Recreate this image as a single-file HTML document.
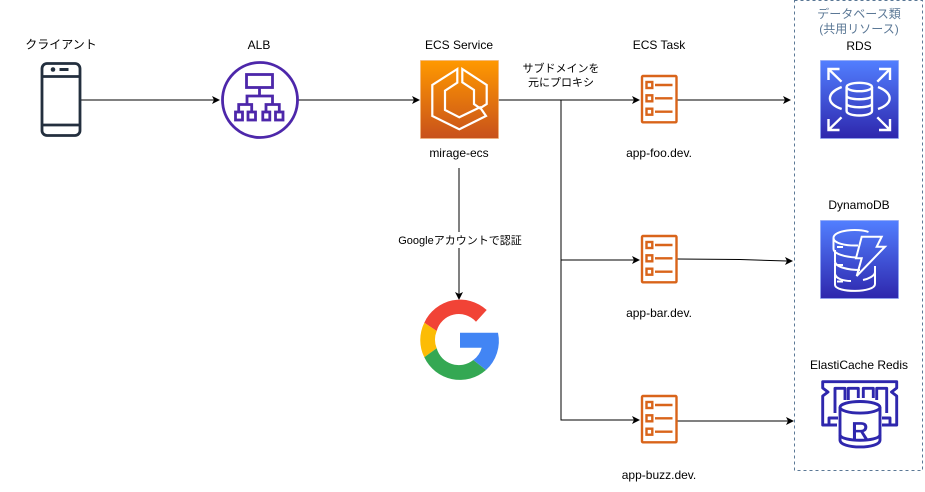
<!DOCTYPE html>
<html><head><meta charset="utf-8"><style>
html,body{margin:0;padding:0;background:#fff}
svg{display:block}
text{font-family:"Liberation Sans","Noto Sans CJK JP",sans-serif;font-size:12px;fill:#000;text-anchor:middle}
</style></head><body>
<svg width="925" height="492" viewBox="0 0 925 492" xmlns="http://www.w3.org/2000/svg">
<defs>
<linearGradient id="o" x1="0" y1="1" x2="0" y2="0"><stop offset="0" stop-color="#c8511b"/><stop offset="1" stop-color="#ff9900"/></linearGradient>
<linearGradient id="b" x1="0" y1="1" x2="0" y2="0"><stop offset="0" stop-color="#2e27ad"/><stop offset="1" stop-color="#527fff"/></linearGradient>
<g id="task" fill="none" stroke="#d9641a" stroke-width="2.400">
<rect x="642" y="76" width="34.500" height="46.300" rx="1"/>
<rect x="646.500" y="82" width="5.800" height="6"/><rect x="646.500" y="95.300" width="5.800" height="6"/><rect x="646.500" y="108.700" width="5.800" height="6"/>
<path d="M655 85H672.500M655 98.300H672.500M655 111.700H672.500"/>
</g>
</defs>
<rect x="794.500" y="0.500" width="128" height="470" fill="none" stroke="#5b7896" stroke-dasharray="3 3"/>

<g fill="none" stroke="#000" stroke-width="1">
<path d="M81 100H214M298 100H414M498 100H634M561 100V420H634M561 260H634M677 100H785M677 259L740 259.500 787 261M677 421H788M459 168V294"/>
</g>
<g fill="#000">
<path d="M220 100L212 96 214 100 212 104Z"/>
<path d="M420 100L412 96 414 100 412 104Z"/>
<path d="M640 100L632 96 634 100 632 104Z"/>
<path d="M640 260L632 256 634 260 632 264Z"/>
<path d="M640 420L632 416 634 420 632 424Z"/>
<path d="M791 100L783 96 785 100 783 104Z"/>
<path d="M793 261L785 257 787 261 785 265Z"/>
<path d="M794 421L786 417 788 421 786 425Z"/>
<path d="M459 300L455 292 459 294 463 292Z"/>
</g>

<!-- phone -->
<g fill="none" stroke="#232f3e" stroke-width="2.800">
<rect x="42" y="63.500" width="38" height="72" rx="5"/>
<path d="M42 76.500H80M42 125H80"/>
</g>
<circle cx="53" cy="69.500" r="2.300" fill="#232f3e"/><rect x="59.500" y="68" width="9" height="3" fill="#232f3e"/>

<!-- ALB -->
<g fill="none" stroke="#4d27aa" stroke-width="2.800">
<circle cx="260" cy="100" r="37.500"/>
<rect x="246.500" y="74.500" width="26" height="13"/>
<path d="M259.500 87.500V96M247 105V96H272.500V105M238.700 111.500V104.500H251.700V111.500M266 111.500V104.500H279.300V111.500"/>
<rect x="235.500" y="112" width="7" height="8"/>
<rect x="248" y="112" width="7.500" height="8"/>
<rect x="262.800" y="112" width="7" height="8"/>
<rect x="275.500" y="112" width="7.500" height="8"/>
</g>

<!-- ECS -->
<rect x="420.500" y="60.500" width="78" height="78" fill="url(#o)" stroke="#f2b478" stroke-width="0.700"/>
<g fill="none" stroke="#fff" stroke-width="2.200" stroke-linejoin="miter">
<path d="M457.300 69L432.300 85V116L459.300 129.300 486 116 480 107.300 459.300 117.300 445 110V90.700L457.300 82.700Z"/>
<path d="M462.300 69V82.300L474 90V104L480 108.300 486.700 104V85Z"/>
</g>

<!-- Tasks -->
<use href="#task"/>
<use href="#task" y="160"/>
<use href="#task" y="320"/>

<!-- Google -->
<path d="M486.700 310A39.300 39.300 0 0 0 424.300 322.700L436.700 331A23 23 0 0 1 476 321.700Z" fill="#f14336"/>
<path d="M424.300 322.700A39 39 0 0 0 424.300 357.300L436.700 348.300A23 23 0 0 1 436.700 331Z" fill="#fcbc05"/>
<path d="M424.300 357.300A39.300 39.300 0 0 0 486 370L473.300 360A23 23 0 0 1 436.700 348.300Z" fill="#34a853"/>
<path d="M460 332.700H498A39.300 39.300 0 0 1 486 370L473.300 360A23 23 0 0 0 481.700 347.700H460Z" fill="#4285f4"/>

<!-- RDS -->
<rect x="820.500" y="60.500" width="78" height="78" fill="url(#b)" stroke="#8ea5f5" stroke-width="0.700"/>
<g fill="none" stroke="#fff" stroke-width="2.400">
<ellipse cx="859.300" cy="87" rx="12.700" ry="4.200"/>
<path d="M846.600 87V111C846.600 117 872 117 872 111V87M846.600 95.500C846.600 100.500 872 100.500 872 95.500M846.600 103.500C846.600 108.500 872 108.500 872 103.500"/>
<path d="M841.700 87C826 93 826 104 841.700 109M878 87C893.500 93 893.500 104 878 109"/>
<path d="M828.500 80V69H839.500M828.500 69L841.500 81.700M890 80V69H879M890 69L877.300 81.700M828.500 119V130H839.500M828.500 130L841.500 117.300M890 119V130H879M890 130L877.300 117.300"/>
</g>

<!-- DynamoDB -->
<rect x="820.500" y="220.500" width="78" height="78" fill="url(#b)" stroke="#8ea5f5" stroke-width="0.700"/>
<g fill="none" stroke="#fff" stroke-width="2">
<path d="M868.500 232C858 228 833.500 230 833.500 238C833.500 243 845 246 858 245.500"/>
<path d="M833.500 238V249C833.500 254 846 257 856 257.500M835 250V262C836 267 848 270 860 270M835 263V274C836 279 844 281 851 281"/>
<path d="M835 272V285C836 293 875 293 875 284V266"/>
<path d="M875 272C875 276 868 279 863 280"/>
<path d="M861.700 236.700H881.700L876.700 246.700H885L856.700 276 861.700 258.300H856Z"/>
<path d="M837 247H843M837 265H843M837 281.500H843"/>
</g>

<!-- Redis -->
<g fill="none" stroke="#2e27ad" stroke-width="2.900" stroke-linejoin="round">
<path d="M837 425H822.700V396L828 392 822.700 388V381.700H896.700V388L891.500 392 896.700 396V425H882"/>
<path d="M829 424V418H838M890 424V418H882"/>
<path d="M835 413V388.300H845V400M848.300 400V388.300H858.300V398M863.300 398V388.300H873.300V398M876.700 400V388.300H886.700V413"/>
<path d="M840 407.300V440C840 449.300 880 449.300 880 440V407.300" fill="#fff"/>
<ellipse cx="860" cy="407.300" rx="20" ry="5.800" fill="#fff"/>
<path d="M840 435C842 442 878 442 880 435"/>
</g>
<text x="860" y="439" style="font-size:24px;fill:#2e27ad;stroke:#2e27ad;stroke-width:0.800">R</text>

<!-- Labels -->
<text x="61" y="48.500">クライアント</text>
<text x="259" y="49">ALB</text>
<text x="459" y="49">ECS Service</text>
<text x="659" y="49">ECS Task</text>
<text x="459" y="157">mirage-ecs</text>
<text x="561" y="72" style="font-size:11px">サブドメインを</text>
<text x="561" y="86" style="font-size:11px">元にプロキシ</text>
<text x="659" y="157">app-foo.dev.</text>
<text x="659" y="317">app-bar.dev.</text>
<text x="659" y="479">app-buzz.dev.</text>
<rect x="398" y="232" width="124" height="16" fill="#fff"/>
<text x="460" y="244" style="font-size:11px">Googleアカウントで認証</text>
<text x="859" y="18" style="fill:#5b7896">データベース類</text>
<text x="859" y="33" style="fill:#5b7896">(共用リソース)</text>
<text x="859" y="50">RDS</text>
<text x="859" y="209">DynamoDB</text>
<text x="859" y="369">ElastiCache Redis</text>
</svg>
</body></html>
